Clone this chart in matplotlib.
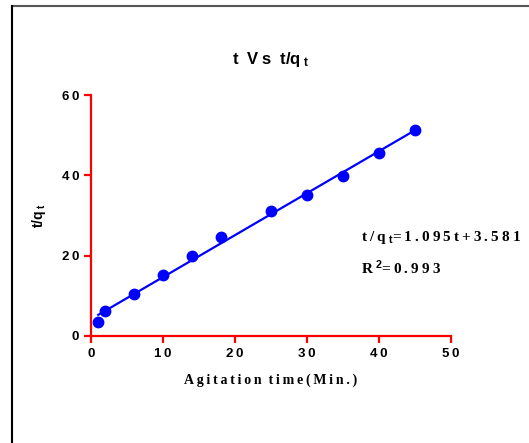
import numpy as np
import matplotlib
matplotlib.use("Agg")
import matplotlib.pyplot as plt
from matplotlib.lines import Line2D

# agitation time (min) and t/qt
time_min = [1, 2, 6, 10, 14, 18, 25, 30, 35, 40, 45]
t_over_qt = [3.4, 6.1, 10.4, 15.3, 19.9, 24.6, 31.1, 35.1, 39.8, 45.6, 51.2]
x_ticks = [0, 10, 20, 30, 40, 50]
y_ticks = [0, 20, 40, 60]

plt.rcParams["mathtext.fontset"] = "custom"
plt.rcParams["mathtext.rm"] = "Liberation Sans:bold"
plt.rcParams["mathtext.bf"] = "Liberation Sans:bold"
plt.rcParams["mathtext.default"] = "rm"


def spaced(s):
    # the original software letter-spaces its text
    return "\u2009".join(s)


W, H = 529, 443
fig = plt.figure(figsize=(W / 100, H / 100), dpi=100)
ax = fig.add_axes([91 / W, (H - 336) / H, (451 - 91) / W, (336 - 95) / H])

# fitted line
slope, inter = np.polyfit(time_min, t_over_qt, 1)
xs = np.array([time_min[0], time_min[-1]])
ax.plot(xs, slope * xs + inter, color="#0000ff", lw=1.6, zorder=2)
ax.plot(time_min, t_over_qt, "o", color="#0000ff", ms=7.5, zorder=3, clip_on=False)

ax.set_xlim(0, 50)
ax.set_ylim(0, 60)
ax.set_xticks(x_ticks)
ax.set_xticklabels([spaced(str(v)) for v in x_ticks])
ax.set_yticks(y_ticks)
ax.set_yticklabels([spaced(str(v)) for v in y_ticks])
for s in ["top", "right"]:
    ax.spines[s].set_visible(False)
for s in ["left", "bottom"]:
    ax.spines[s].set_color("red")
    ax.spines[s].set_linewidth(1.6)
ax.tick_params(colors="red", width=1.6, length=5, direction="out")
for lab in ax.get_xticklabels() + ax.get_yticklabels():
    lab.set_color("black")
    lab.set_fontweight("bold")
    lab.set_fontsize(9.5)
    lab.set_family("Liberation Sans")

ax.set_xlabel(spaced("Agitation") + "  " + spaced("time(Min.)"), fontsize=10,
              fontweight="bold", family="Liberation Serif", labelpad=10)
ax.set_ylabel("t/q\u2009$_{t}$", fontsize=10, fontweight="bold",
              family="Liberation Sans", labelpad=10)
ax.set_title("t  V\u2009s  t/q\u2009$_{t}$", fontsize=12, fontweight="bold",
             family="Liberation Sans", pad=22)

eq_text = spaced("t/q") + "\u2009$_{t}$" + "=\u2009" + spaced("1.095t+3.581")
r2_text = "R\u2009$^{2}$" + "=\u2009" + spaced("0.993")
fig.text(361 / W, 1 - 237 / H, eq_text, fontsize=11, fontweight="bold",
         family="Liberation Serif", va="center")
fig.text(361 / W, 1 - 268 / H, r2_text, fontsize=11, fontweight="bold",
         family="Liberation Serif", va="center")

# frame edges of the original screenshot
fig.add_artist(Line2D([12 / W, 1], [1 - 6 / H, 1 - 6 / H], color="#555555", lw=1.5))
fig.add_artist(Line2D([12 / W, 12 / W], [0, 1 - 6 / H], color="black", lw=1.5))

fig.savefig("out.png", dpi=100)
